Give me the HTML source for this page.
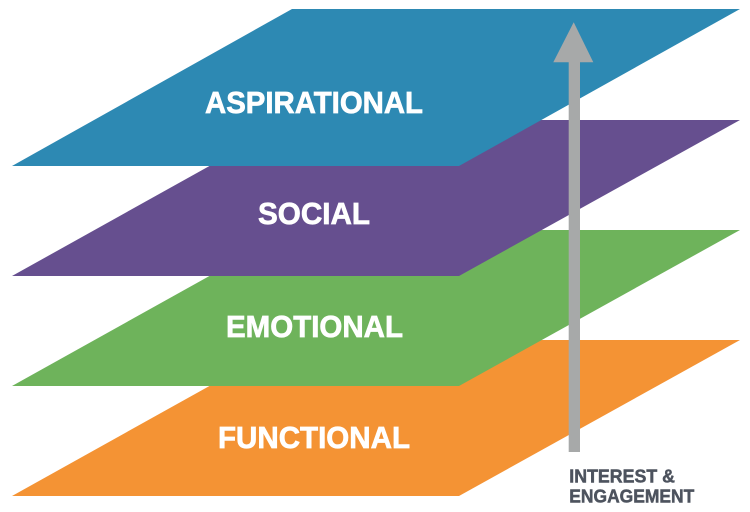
<!DOCTYPE html>
<html>
<head>
<meta charset="utf-8">
<style>
html,body{margin:0;padding:0;background:#fff;}
svg{display:block;}
</style>
</head>
<body>
<svg width="750" height="512" viewBox="0 0 750 512" xmlns="http://www.w3.org/2000/svg">
  <!-- Functional (orange) -->
  <polygon points="292,340 740,340 459,496 12,496" fill="#f49334"/>
  <!-- Emotional (green) -->
  <polygon points="292,230 740,230 459,386 12,386" fill="#6eb35b"/>
  <!-- Social (purple) -->
  <polygon points="292,120 740,120 459,276 12,276" fill="#664f8f"/>
  <!-- Aspirational (blue) -->
  <polygon points="292,9 740,9 459,166 12,166" fill="#2d89b3"/>

  <g font-family="'Liberation Sans', sans-serif" font-weight="bold" fill="#ffffff" stroke="#ffffff" stroke-width="0.7" font-size="30.5">
    <text x="205" y="113" textLength="218" lengthAdjust="spacingAndGlyphs">ASPIRATIONAL</text>
    <text x="258" y="224" textLength="112" lengthAdjust="spacingAndGlyphs">SOCIAL</text>
    <text x="226" y="337" textLength="177" lengthAdjust="spacingAndGlyphs">EMOTIONAL</text>
    <text x="218" y="448" textLength="192" lengthAdjust="spacingAndGlyphs">FUNCTIONAL</text>
  </g>

  <!-- Arrow -->
  <rect x="568.7" y="60" width="11.3" height="392" fill="#a7a9a9"/>
  <polygon points="573.7,22.3 593.3,62.3 553.3,62.3" fill="#a7a9a9"/>

  <g font-family="'Liberation Sans', sans-serif" font-weight="bold" fill="#4d535e" stroke="#4d535e" stroke-width="0.5" font-size="18.5">
    <text x="569.3" y="482.7" textLength="105.7" lengthAdjust="spacingAndGlyphs">INTEREST &amp;</text>
    <text x="569.3" y="502.3" textLength="125" lengthAdjust="spacingAndGlyphs">ENGAGEMENT</text>
  </g>
</svg>
</body>
</html>
